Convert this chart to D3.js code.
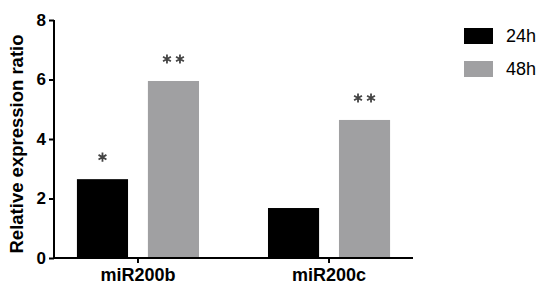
<!DOCTYPE html>
<html>
<head>
<meta charset="utf-8">
<script src="https://d3js.org/d3.v7.min.js"></script>
<style>
  body { margin: 0; background: #fff; }
  svg { display: block; font-family: "Liberation Sans", Arial, sans-serif; }
</style>
</head>
<body>
<div id="chart"></div>
<script>
// Relative expression of miR200b / miR200c at 24h and 48h
const categories = ['miR200b', 'miR200c'];
const seriesNames = ['24h', '48h'];
const values24h = [2.65, 1.68];
const values48h = [5.95, 4.64];
const stars24h = [1, 0];   // number of significance stars
const stars48h = [2, 2];
const yTicks = [0, 2, 4, 6, 8];
const colors = ['#000000', '#a0a0a2'];

const width = 550, height = 296;
const margin = { left: 54, right: 137, top: 20, bottom: 38 };

const svg = d3.select('#chart').append('svg')
  .attr('width', width)
  .attr('height', height);

// scales
const y = d3.scaleLinear()
  .domain([0, 8])
  .range([height - margin.bottom, margin.top]);

const x0 = d3.scaleBand()
  .domain(categories)
  .range([margin.left, width - margin.right])
  .paddingInner(0.361)
  .paddingOuter(0.12);

const x1 = d3.scaleBand()
  .domain(seriesNames)
  .range([0, x0.bandwidth()])
  .paddingInner(0.28)
  .paddingOuter(0);

const rows = categories.map((c, i) => ({
  cat: c,
  bars: [
    { s: seriesNames[0], v: values24h[i], n: stars24h[i] },
    { s: seriesNames[1], v: values48h[i], n: stars48h[i] }
  ]
}));

// bars
const groups = svg.selectAll('.grp')
  .data(rows)
  .enter()
  .append('g')
  .attr('class', 'grp')
  .attr('transform', d => `translate(${x0(d.cat)},0)`);

groups.selectAll('rect')
  .data(d => d.bars)
  .enter()
  .append('rect')
  .attr('x', d => x1(d.s))
  .attr('y', d => y(d.v))
  .attr('width', x1.bandwidth())
  .attr('height', d => y(0) - y(d.v))
  .attr('fill', (d, i) => colors[i]);

// significance stars (one asterisk symbol each, 13px apart)
const starSym = d3.symbol(d3.symbolAsterisk).size(58);
const starGap = 13;
groups.each(function(d) {
  const g = d3.select(this);
  d.bars.forEach(b => {
    const cx = x1(b.s) + x1.bandwidth() / 2;
    for (let k = 0; k < b.n; k++) {
      const off = (k - (b.n - 1) / 2) * starGap;
      g.append('path')
        .attr('d', starSym())
        .attr('transform', `translate(${cx + off},${y(b.v) - 22})`)
        .attr('fill', 'none')
        .attr('stroke', '#444')
        .attr('stroke-width', 1.8);
    }
  });
});

// y axis
const yAxis = svg.append('g')
  .attr('transform', `translate(${margin.left},0)`)
  .call(d3.axisLeft(y).tickValues(yTicks).tickSize(5).tickPadding(3).tickFormat(d3.format('d')));
yAxis.select('.domain').attr('stroke-width', 2).attr('d', `M0,${y(8)}V${y(0)}`);
yAxis.selectAll('.tick line').attr('stroke-width', 2);
yAxis.selectAll('.tick text')
  .style('font-size', '17px')
  .style('font-weight', 'bold')
  .style('font-family', '"Liberation Sans", Arial, sans-serif')
  .attr('fill', '#000');

// x axis
const xAxis = svg.append('g')
  .attr('transform', `translate(0,${y(0)})`)
  .call(d3.axisBottom(x0).tickSize(5).tickPadding(5));
xAxis.select('.domain').attr('stroke-width', 2)
  .attr('d', `M${margin.left - 1},0H${width - margin.right}`);
xAxis.selectAll('.tick line').attr('stroke-width', 2);
xAxis.selectAll('.tick text')
  .style('font-size', '18px')
  .style('font-weight', 'bold')
  .style('font-family', '"Liberation Sans", Arial, sans-serif')
  .attr('fill', '#000');

// y title
svg.append('text')
  .attr('transform', `translate(23,${(y(0) + y(8)) / 2 + 5}) rotate(-90)`)
  .attr('text-anchor', 'middle')
  .style('font-size', '18.5px')
  .style('font-weight', 'bold')
  .text('Relative expression ratio');

// legend
const legend = svg.selectAll('.leg')
  .data(seriesNames)
  .enter()
  .append('g')
  .attr('class', 'leg')
  .attr('transform', (d, i) => `translate(464,${28 + i * 33})`);

legend.append('rect')
  .attr('width', 29)
  .attr('height', 16)
  .attr('fill', (d, i) => colors[i]);

legend.append('text')
  .attr('x', 42)
  .attr('y', 8)
  .attr('dy', '0.35em')
  .style('font-size', '18px')
  .text(d => d);
</script>
</body>
</html>
